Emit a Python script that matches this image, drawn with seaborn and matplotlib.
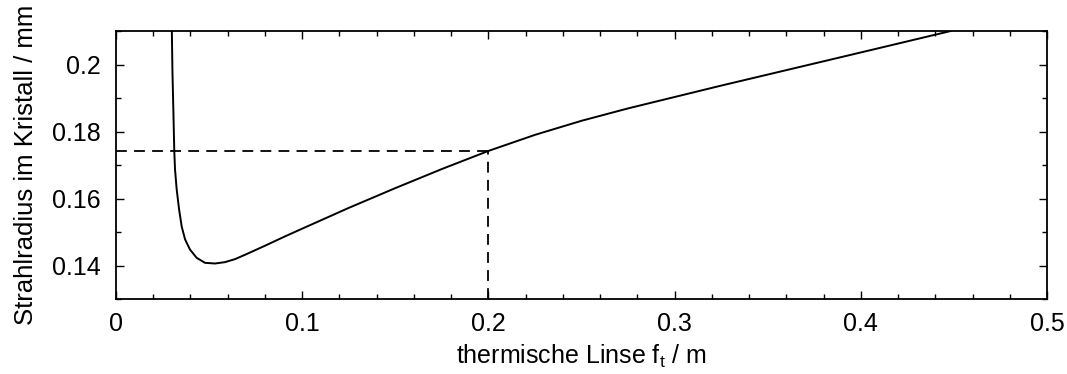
import matplotlib
matplotlib.use("Agg")
import matplotlib.pyplot as plt
import seaborn as sns
import pandas as pd
from matplotlib.ticker import MultipleLocator

# thermal lens focal length (m) and beam radius in crystal (mm)
focal_length = [0.0300, 0.0303, 0.0308, 0.0313, 0.0317, 0.0326, 0.0339, 0.0353,
                0.0371, 0.0397, 0.0433, 0.0478, 0.0532, 0.0585, 0.0639, 0.0693,
                0.0800, 0.0908, 0.1000, 0.1250, 0.1500, 0.1750, 0.2000, 0.2250,
                0.2500, 0.2750, 0.3000, 0.3250, 0.3500, 0.3750, 0.4000, 0.4483]
beam_radius = [0.2101, 0.1985, 0.1866, 0.1743, 0.1687, 0.1627, 0.1567, 0.1516,
               0.1478, 0.1448, 0.1423, 0.1408, 0.1406, 0.1410, 0.1419, 0.1432,
               0.1459, 0.1487, 0.1510, 0.1572, 0.1631, 0.1688, 0.1742, 0.1790,
               0.1832, 0.1869, 0.1903, 0.1937, 0.1970, 0.2003, 0.2036, 0.2100]

# marker lines at f = 0.2 m
h_x = [0.0, 0.2]
h_y = [0.1742, 0.1742]
v_x = [0.2, 0.2]
v_y = [0.13, 0.1742]

xticks = [0, 0.1, 0.2, 0.3, 0.4, 0.5]
xticklabels = ["0", "0.1", "0.2", "0.3", "0.4", "0.5"]
yticks = [0.14, 0.16, 0.18, 0.2]
yticklabels = ["0.14", "0.16", "0.18", "0.2"]

sns.set_theme(style="ticks")
plt.rcParams['font.family'] = ['Liberation Sans', 'DejaVu Sans']
plt.rcParams['mathtext.fontset'] = 'custom'
plt.rcParams['mathtext.rm'] = 'Liberation Sans'

fig = plt.figure(figsize=(10.67, 3.74), dpi=100)
ax = fig.add_axes([0.1087, 0.2005, 0.8726, 0.7166])

df = pd.DataFrame({"f": focal_length, "w": beam_radius})
sns.lineplot(data=df, x="f", y="w", ax=ax, color="black", linewidth=1.4,
             estimator=None, sort=False)
sns.lineplot(x=h_x, y=h_y, ax=ax, color="black", linewidth=1.3,
             linestyle=(0, (6, 4)), estimator=None, sort=False)
sns.lineplot(x=v_x, y=v_y, ax=ax, color="black", linewidth=1.3,
             linestyle=(0, (6, 4)), estimator=None, sort=False)

ax.set_xlim(0, 0.5)
ax.set_ylim(0.13, 0.21)
ax.set_xticks(xticks)
ax.set_xticklabels(xticklabels)
ax.set_yticks(yticks)
ax.set_yticklabels(yticklabels)
ax.xaxis.set_minor_locator(MultipleLocator(0.02))
ax.yaxis.set_minor_locator(MultipleLocator(0.01))

ax.tick_params(which="both", direction="in", top=True, right=True,
               color="black", width=1.0, labelsize=18, labelcolor="black")
ax.tick_params(which="major", length=6)
ax.tick_params(which="minor", length=3.5)
ax.tick_params(axis="x", which="major", pad=9)
ax.tick_params(axis="y", which="major", pad=11)
for s in ax.spines.values():
    s.set_color("black")
    s.set_linewidth(1.3)

ax.set_xlabel(r"thermische Linse f$_{\rm t}$ / m", fontsize=18, color="black", labelpad=5)
ax.set_ylabel("Strahlradius im Kristall / mm", fontsize=18.5, color="black", labelpad=10)

fig.savefig("out.png", dpi=100, facecolor="white")
